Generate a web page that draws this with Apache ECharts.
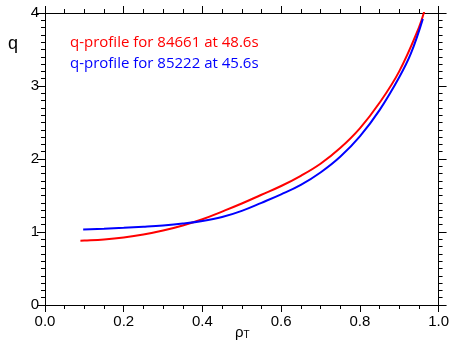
<!DOCTYPE html>
<html>
<head>
<meta charset="utf-8">
<script src="https://cdn.jsdelivr.net/npm/echarts@6/dist/echarts.min.js"></script>
<style>
  html, body { margin: 0; padding: 0; background: #fff; }
  #chart { width: 452px; height: 347px; }
</style>
</head>
<body>
<div id="chart"></div>
<script>
// q-profile for 84661 at 48.6s (red)
const rhoRed = [0.09, 0.1, 0.15, 0.2, 0.25, 0.3, 0.35, 0.4, 0.45, 0.5, 0.55, 0.6, 0.65, 0.7, 0.75, 0.8, 0.85, 0.9, 0.95, 0.965];
const qRed = [0.88, 0.882, 0.898, 0.925, 0.965, 1.02, 1.09, 1.175, 1.28, 1.39, 1.51, 1.63, 1.77, 1.935, 2.15, 2.42, 2.77, 3.20, 3.80, 4.05];
// q-profile for 85222 at 45.6s (blue)
const rhoBlue = [0.097, 0.15, 0.2, 0.25, 0.3, 0.35, 0.4, 0.45, 0.5, 0.55, 0.6, 0.65, 0.7, 0.75, 0.8, 0.85, 0.9, 0.93, 0.96];
const qBlue = [1.035, 1.045, 1.057, 1.072, 1.09, 1.115, 1.15, 1.205, 1.29, 1.40, 1.515, 1.645, 1.815, 2.03, 2.31, 2.67, 3.12, 3.45, 3.92];

const legendLabels = ['q-profile for 84661 at 48.6s', 'q-profile for 85222 at 45.6s'];
const colors = ['#ff0000', '#0000ff'];

const pairs = (xs, ys) => xs.map((x, i) => [x, ys[i]]);

const chart = echarts.init(document.getElementById('chart'), null, { renderer: 'canvas' });

const axisColor = '#000';
const font = 'Liberation Sans, Arial, sans-serif';

// one axis per side; onZero off keeps the mirror axes on the top/right edge
function makeAxis(pos, isX, showLabel) {
  return {
    type: 'value',
    position: pos,
    min: 0,
    max: isX ? 1 : 4,
    interval: isX ? 0.2 : 1,
    axisLine: { show: true, onZero: false, lineStyle: { color: axisColor, width: 1 } },
    axisTick: { show: true, length: isX ? 7 : 8, lineStyle: { color: axisColor, width: 1 } },
    minorTick: { show: true, splitNumber: isX ? 4 : 10, length: 4, lineStyle: { color: axisColor, width: 1 } },
    splitLine: { show: false },
    axisLabel: {
      show: showLabel,
      color: '#000',
      fontSize: 15,
      fontFamily: font,
      margin: isX ? 9 : 6,
      formatter: isX ? (v => v.toFixed(1)) : (v => String(v))
    }
  };
}

const option = {
  animation: false,
  grid: { left: 45, top: 13, right: 12, bottom: 42 },
  xAxis: [makeAxis('bottom', true, true), makeAxis('top', true, false)],
  yAxis: [makeAxis('left', false, true), makeAxis('right', false, false)],
  graphic: [
    { type: 'text', left: 8, top: 35, style: { text: 'q', fontSize: 18, fill: '#000', fontFamily: font } },
    {
      type: 'text', left: 235, top: 325,
      style: {
        text: '{a|ρ}{b|T}',
        rich: {
          a: { fontSize: 15, fill: '#000', fontFamily: font },
          b: { fontSize: 10, fill: '#000', fontFamily: font, padding: [6, 0, 0, 0] }
        }
      }
    },
    { type: 'text', left: 70, top: 35, style: { text: legendLabels[0], fontSize: 15, fill: colors[0], fontFamily: 'Open Sans, sans-serif' } },
    { type: 'text', left: 70, top: 56, style: { text: legendLabels[1], fontSize: 15, fill: colors[1], fontFamily: 'Open Sans, sans-serif' } }
  ],
  series: [
    {
      name: legendLabels[0], type: 'line', smooth: 0.4, showSymbol: false, clip: true,
      lineStyle: { color: colors[0], width: 2 },
      data: pairs(rhoRed, qRed)
    },
    {
      name: legendLabels[1], type: 'line', smooth: 0.4, showSymbol: false, clip: true,
      lineStyle: { color: colors[1], width: 2 },
      data: pairs(rhoBlue, qBlue)
    }
  ]
};

chart.setOption(option);
</script>
</body>
</html>
